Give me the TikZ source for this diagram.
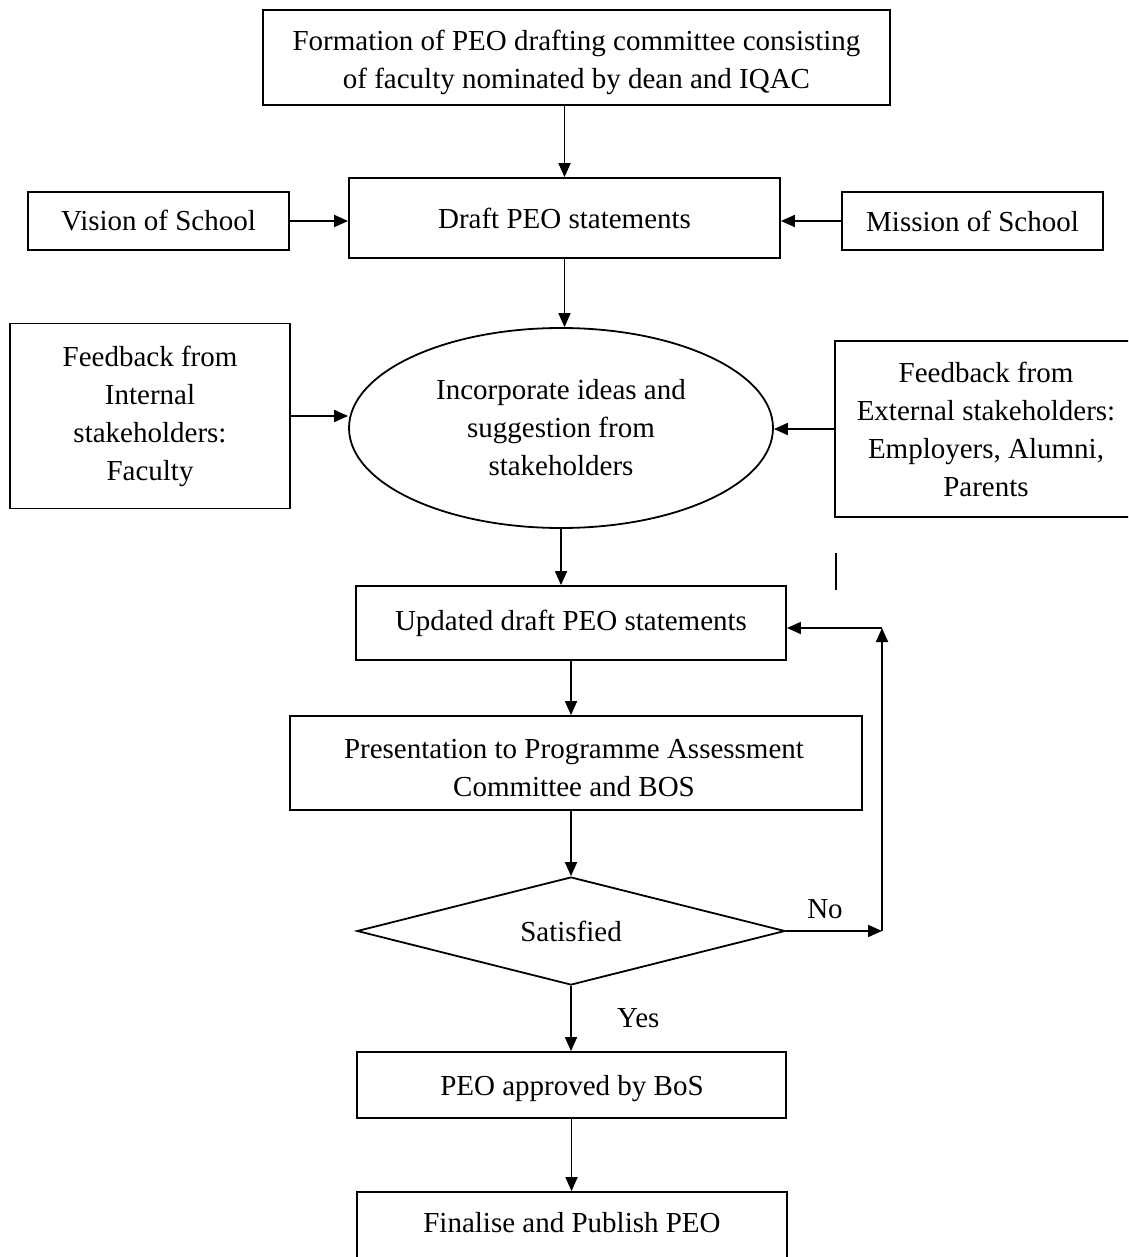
\documentclass[tikz,border=0pt]{standalone}
\usepackage{fontspec}
\setmainfont{Liberation Serif}
\usetikzlibrary{arrows.meta,shapes.geometric}
\begin{document}
\begin{tikzpicture}[x=1pt,y=-1pt,
  font=\fontsize{29}{38}\selectfont,
  box/.style={draw, line width=1.8pt, align=center, inner sep=0pt},
  flow/.style={-{Triangle[length=14pt,width=12pt]}, line width=1.8pt}]
\useasboundingbox (0,0) rectangle (1128,1257);
\clip (0,0) rectangle (1128,1257);

% main column
\node[box, minimum width=627pt, minimum height=95pt] (form) at (576.5,57.5) {};
\node[align=center] at (576.5,62) {Formation of PEO drafting committee consisting\\of faculty nominated by dean and IQAC};
\node[box, minimum width=431pt, minimum height=80pt] (draft) at (564.5,218) {Draft PEO statements};
\node[box, ellipse, minimum width=424pt, minimum height=200pt] (ideas) at (561,428)
  {Incorporate ideas and\\suggestion from\\stakeholders};
\node[box, minimum width=430pt, minimum height=74pt] (upd) at (571,623) {Updated draft PEO statements};
\node[box, minimum width=572pt, minimum height=94pt] (pres) at (576,763) {};
\node[align=center] at (574,768) {Presentation to Programme Assessment\\Committee and BOS};
\node[box, diamond, aspect=4, minimum width=428pt, minimum height=108pt] (sat) at (571,931) {Satisfied};
\node[box, minimum width=429pt, minimum height=66pt] (appr) at (571.5,1085) {};
\node at (572,1089) {PEO approved by BoS};
\node[box, minimum width=430pt, minimum height=70pt] (final) at (572,1227) {};
\node at (572,1223) {Finalise and Publish PEO};

% side inputs
\node[box, minimum width=261pt, minimum height=58pt] (vision) at (158.5,221) {Vision of School};
\node[box, minimum width=261pt, minimum height=58pt] (mission) at (972.5,221) {Mission of School};
\node[box, minimum width=280pt, minimum height=185pt] (intfb) at (150,416)
  {Feedback from\\Internal\\stakeholders:\\Faculty};
\node[box, minimum width=302pt, minimum height=176pt] (extfb) at (986,429)
  {Feedback from\\External stakeholders:\\Employers, Alumni,\\Parents};

% connectors
\draw[flow] (draft.north |- form.south) -- (draft.north);
\draw[flow] (vision.east) -- (vision.east -| draft.west);
\draw[flow] (mission.west) -- (mission.west -| draft.east);
\draw[flow] (draft.south) -- (draft.south |- ideas.north);
\draw[flow] (intfb.east) -- (intfb.east -| ideas.west);
\draw[flow] (extfb.west) -- (extfb.west -| ideas.east);
\draw[flow] (ideas.south) -- (ideas.south |- upd.north);
\draw[flow] (upd.south -| sat.north) -- (sat.north |- pres.north);
\draw[flow] (pres.south -| sat.north) -- (sat.north);
\draw[flow] (sat.south) -- (sat.south |- appr.north) node[midway, right=42pt] {Yes};
\draw[flow] (appr.south) -- (appr.south |- final.north);

% "No" loop back to the updated draft
\coordinate (loop) at (882,931);
\coordinate (looptop) at (882,628);
\draw[flow] (sat.east) -- (loop);
\node (nolabel) at (825,909) {No};
\draw[flow] (loop) -- (looptop);
\draw[flow] (looptop) -- (looptop -| upd.east);

% short stroke beside the external feedback box
\coordinate (tick1) at (836,553);
\coordinate (tick2) at (836,590);
\draw[line width=1.8pt] (tick1) -- (tick2);
\end{tikzpicture}
\end{document}
